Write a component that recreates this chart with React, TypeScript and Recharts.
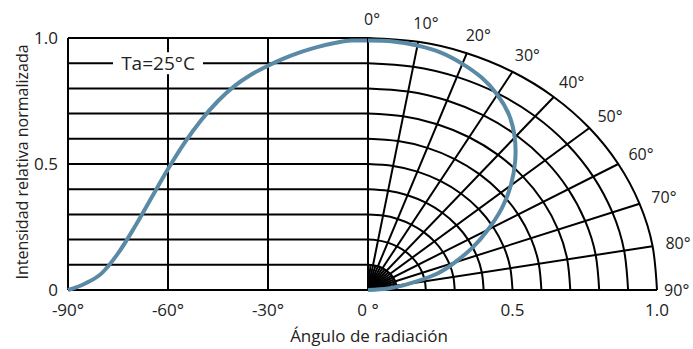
import React from 'react';
import { ComposedChart, Line, XAxis, YAxis, ReferenceLine, ReferenceDot } from 'recharts';

// angles (deg) at which intensity was read
const ANGLES = [0, 5, 10, 15, 20, 25, 30, 35, 40, 45, 50, 55, 60, 65, 70, 75, 80, 85, 90];
// left (cartesian) curve, read at -angle
const LEFT_INTENSITY = [0.99, 0.99, 0.98, 0.965, 0.945, 0.92, 0.89, 0.855, 0.81, 0.75, 0.675, 0.585, 0.48, 0.365, 0.25, 0.145, 0.065, 0.025, 0];
// right (polar) curve
const POLAR_INTENSITY = [0.99, 0.99, 0.985, 0.975, 0.955, 0.93, 0.895, 0.85, 0.79, 0.72, 0.645, 0.565, 0.48, 0.4, 0.32, 0.245, 0.145, 0.07, 0];

const LEFT_X_TICKS = [-90, -60, -30, 0];
const Y_TICKS = [0, 0.5, 1];
const GRID_Y = [0, 0.1, 0.2, 0.3, 0.4, 0.5, 0.6, 0.7, 0.8, 0.9, 1];
const R_TICKS = [0.5, 1];
const RING_RADII = [0.1, 0.2, 0.3, 0.4, 0.5, 0.6, 0.7, 0.8, 0.9, 1];
const SPOKE_ANGLES = [0, 10, 20, 30, 40, 50, 60, 70, 80, 90];
const FAN_ANGLES = [5, 15, 25, 35, 45, 55, 65, 75, 85];
const FAN_RADIUS = 0.1;
const LABEL_RADIUS = 1.075;

const BLUE = '#5a8aa5';
const INK = '#222';
const FONT = '"Open Sans", sans-serif';

const toXY = (r: number, deg: number) => ({
  x: r * Math.sin((deg * Math.PI) / 180),
  y: r * Math.cos((deg * Math.PI) / 180),
});

const leftData = ANGLES.map((a, i) => ({ x: -a, y: LEFT_INTENSITY[i] })).sort((p, q) => p.x - q.x);
const polarData = ANGLES.map((a, i) => toXY(POLAR_INTENSITY[i], a));
const rings = RING_RADII.map((r) => SPOKE_ANGLES.map((a) => toXY(r, a)));
const spokes = SPOKE_ANGLES.map((a) => [toXY(0, a), toXY(1, a)]);
const fan = FAN_ANGLES.map((a) => [toXY(0, a), toXY(FAN_RADIUS, a)]);

const tickStyle = { fill: INK, fontSize: 17, fontFamily: FONT };

const TaLabel = (props: any) => {
  const { cx, cy } = props;
  return (
    <g>
      <rect x={cx - 45} y={cy - 11} width={90} height={22} fill="#fff" />
      <text x={cx} y={cy} textAnchor="middle" dominantBaseline="central" fill={INK} fontSize={19} fontFamily={FONT}>
        Ta=25°C
      </text>
    </g>
  );
};

export default function App() {
  return (
    <div style={{ position: 'absolute', left: 0, top: 0, width: 693, height: 349, background: '#fff', overflow: 'hidden' }}>
      {/* left: intensity vs angle */}
      <div style={{ position: 'absolute', left: 0, top: 0 }}>
        <ComposedChart width={400} height={349} data={leftData} margin={{ top: 38, right: 32, left: 0, bottom: 0 }}>
          <XAxis
            dataKey="x"
            type="number"
            domain={[-90, 0]}
            ticks={LEFT_X_TICKS}
            tickFormatter={(v) => (v === 0 ? '0 °' : `${v}°`)}
            axisLine={false}
            tickLine={false}
            tickSize={12}
            tickMargin={2}
            height={59}
            tick={tickStyle}
            interval={0}
          />
          <YAxis
            type="number"
            domain={[0, 1]}
            ticks={Y_TICKS}
            tickFormatter={(v) => (v === 0 ? '0' : v.toFixed(1))}
            axisLine={false}
            tickLine={false}
            tickSize={8}
            tickMargin={2}
            width={68}
            tick={tickStyle}
            interval={0}
          />
          {GRID_Y.map((v) => (
            <ReferenceLine key={`h${v}`} y={v} stroke="#000" strokeWidth={2} ifOverflow="visible" />
          ))}
          {LEFT_X_TICKS.map((v) => (
            <ReferenceLine key={`v${v}`} x={v} stroke="#000" strokeWidth={2} ifOverflow="visible" />
          ))}
          <ReferenceDot x={-63} y={0.9} r={0} ifOverflow="visible" shape={TaLabel} />
          <Line dataKey="y" type="monotone" stroke={BLUE} strokeWidth={4} dot={false} isAnimationActive={false} />
        </ComposedChart>
      </div>

      {/* right: polar quarter */}
      <div style={{ position: 'absolute', left: 358, top: 0 }}>
        <ComposedChart width={335} height={349} margin={{ top: 38, right: 36, left: 10, bottom: 0 }}>
          <XAxis
            dataKey="x"
            type="number"
            domain={[0, 1]}
            ticks={R_TICKS}
            tickFormatter={(v) => v.toFixed(1)}
            axisLine={false}
            tickLine={false}
            tickSize={12}
            tickMargin={2}
            height={59}
            tick={tickStyle}
            interval={0}
          />
          <YAxis type="number" domain={[0, 1]} hide />
          {rings.map((pts, i) => (
            <Line key={`r${i}`} data={pts} dataKey="y" type="natural" stroke="#000" strokeWidth={2} dot={false} isAnimationActive={false} />
          ))}
          {spokes.map((pts, i) => (
            <Line key={`s${i}`} data={pts} dataKey="y" type="linear" stroke="#000" strokeWidth={2} dot={false} isAnimationActive={false} />
          ))}
          {fan.map((pts, i) => (
            <Line key={`f${i}`} data={pts} dataKey="y" type="linear" stroke="#000" strokeWidth={2} dot={false} isAnimationActive={false} />
          ))}
          {SPOKE_ANGLES.map((a) => {
            const p = toXY(LABEL_RADIUS, a);
            return (
              <ReferenceDot
                key={`l${a}`}
                x={p.x}
                y={p.y}
                r={0}
                ifOverflow="visible"
                label={{ value: `${a}°`, position: 'center', fill: INK, fontSize: 16, fontFamily: FONT, dx: a === 90 ? -2 : 4 }}
              />
            );
          })}
          <Line data={polarData} dataKey="y" type="natural" stroke={BLUE} strokeWidth={4} dot={false} isAnimationActive={false} />
        </ComposedChart>
      </div>

      <div
        style={{
          position: 'absolute',
          left: 22,
          top: 162,
          transform: 'translate(-50%, -50%) rotate(-90deg)',
          whiteSpace: 'nowrap',
          fontFamily: FONT,
          fontSize: 16,
          color: INK,
        }}
      >
        Intensidad relativa normalizada
      </div>
      <div
        style={{
          position: 'absolute',
          left: 369,
          top: 335,
          transform: 'translate(-50%, -50%)',
          whiteSpace: 'nowrap',
          fontFamily: FONT,
          fontSize: 17,
          color: INK,
        }}
      >
        Ángulo de radiación
      </div>
    </div>
  );
}
